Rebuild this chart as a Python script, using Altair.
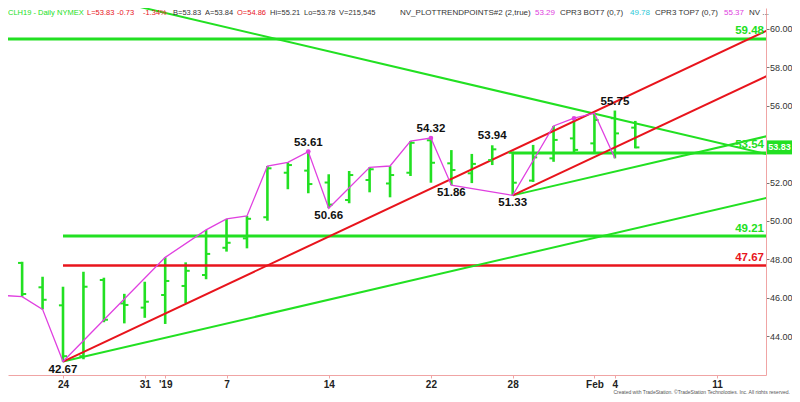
import json
import altair as alt
import pandas as pd

# ---------------- data ----------------
# trading-day index: 0 = Dec 24 2018, 5 = Jan 2 2019, 26 = Feb 1, 28 = Feb 5
bar_index = list(range(-3, 29))
bar_open = [47.50, 47.81, 46.54, 45.60, 42.95, 46.92, 45.70, 45.48, 46.14, 46.61, 47.18, 48.60,
            49.09, 50.19, 52.51, 52.62, 52.00, 51.09, 52.13, 51.95, 52.51, 54.20, 53.00, 52.48,
            53.17, 53.55, 52.10, 53.26, 54.30, 54.04, 55.35, 54.86]
bar_high = [48.69, 47.87, 47.09, 46.57, 47.35, 47.04, 46.20, 46.83, 48.10, 47.84, 49.53, 50.10,
            50.26, 52.86, 53.05, 53.61, 52.43, 52.60, 52.79, 52.86, 54.16, 54.32, 53.69, 53.49,
            53.94, 53.61, 53.96, 54.95, 55.35, 55.61, 55.75, 55.21]
bar_low = [46.61, 46.05, 45.39, 42.67, 42.79, 44.72, 44.66, 44.95, 44.63, 45.71, 46.96, 48.40,
           48.57, 50.01, 51.65, 51.44, 50.66, 50.92, 51.49, 51.23, 52.34, 51.99, 51.86, 51.97,
           52.91, 51.33, 52.03, 53.08, 53.54, 53.52, 53.26, 53.78]
bar_close = [48.54, 46.19, 45.89, 42.95, 46.57, 44.85, 45.62, 45.79, 46.87, 47.40, 48.28, 48.86,
             50.11, 52.74, 52.91, 51.92, 50.85, 52.39, 52.69, 52.39, 54.07, 53.03, 52.65, 52.97,
             53.73, 51.99, 53.31, 54.22, 53.70, 55.26, 54.56, 53.83]

tick_index = [0, 4, 5, 8, 13, 18, 22, 26, 27, 32]
tick_label = ["24", "31", "'19", "7", "14", "22", "28", "Feb", "4", "11"]
price_ticks = [44, 46, 48, 50, 52, 54, 56, 58, 60]

trend_pt_index = [-3, -2, -1, 0, 5, 7, 8, 9, 10, 11, 12, 13, 15, 16, 17, 18, 19, 22, 24, 25, 26, 27]
trend_pt_price = [46.12, 46.05, 45.39, 42.67, 48.10, 49.53, 50.10, 50.26, 52.86, 53.05, 53.61,
                  50.66, 52.79, 52.86, 54.16, 54.32, 51.86, 51.33, 54.95, 55.35, 55.61, 53.26]

pivot_dot_index = [12, 18, 25]
pivot_dot_price = [53.61, 54.32, 55.35]

swing_label_index = [0, 12, 13, 18, 19, 21, 22, 27]
swing_label_price = [42.67, 53.61, 50.66, 54.32, 51.86, 53.94, 51.33, 55.75]
swing_label_kind = ["low", "high", "low", "high", "low", "high", "low", "high"]

green_levels = [59.48, 53.54, 49.21]
green_level_from = [-3, 22, 0]
red_levels = [47.67]
red_level_from = [0]
level_to = 34.7

red_trend_i0 = [0, 22]
red_trend_p0 = [42.67, 51.33]
red_trend_i1 = [34.7, 34.7]
red_trend_p1 = [60.05, 57.68]

green_trend_i0 = [0, 22, 0]
green_trend_p0 = [42.67, 51.33, 62.09]
green_trend_i1 = [34.7, 34.7, 34.7]
green_trend_p1 = [51.27, 54.48, 53.41]

last_price = 53.83

header_left = ["CLH19 - Daily", "NYMEX", "L=53.83", "-0.73", "-1.34%", "B=53.83", "A=53.84",
               "O=54.86", "Hi=55.21", "Lo=53.78", "V=215,545"]
header_right = ["NV_PLOTTRENDPOINTS#2 (2,true)", "53.29", "CPR3 BOT7 (0,7)", "49.78",
                "CPR3 TOP7 (0,7)", "55.37", "NV ..."]

# ---------------- styling ----------------
FONT = "Liberation Sans"
GREEN = "#22e022"
RED = "#e8141c"
MAGENTA = "#e040e0"
CYAN = "#2cc8d8"
DARK = "#333333"
PINK = "#f0a4a4"
W, H = 758, 367

xs = alt.Scale(domain=[-2.691, 34.393], nice=False, zero=False)
ys = alt.Scale(domain=[41.970, 61.094], nice=False, zero=False)

expr = " : ".join(f"datum.value == {i} ? {json.dumps(l)}" for i, l in zip(tick_index, tick_label)) + " : ''"
x_axis = alt.Axis(values=tick_index, labelExpr=expr, title=None, grid=False, orient="bottom",
                  domainColor=PINK, tickColor=PINK, tickSize=3, labelPadding=1,
                  labelFontSize=10, labelFontWeight="bold", labelColor="#222", labelFont=FONT,
                  labelOverlap=False, labelFlush=False, labelBound=False)
y_axis = alt.Axis(values=price_ticks, format=".2f", title=None, grid=False, orient="right",
                  domainColor=PINK, tickColor="#777", tickSize=3, labelPadding=0.5,
                  labelFontSize=9, labelColor=DARK, labelFont=FONT, labelOverlap=False,
                  labelFlush=False, labelBound=False)


def X(field):
    return alt.X(field, scale=xs, axis=x_axis)


def Y(field):
    return alt.Y(field, scale=ys, axis=y_axis)


bars = pd.DataFrame({"i": bar_index, "o": bar_open, "h": bar_high, "l": bar_low, "c": bar_close})
one = pd.DataFrame({"k": [0]})

hl = alt.Chart(bars).mark_rule(color=GREEN, strokeWidth=2.6, clip=True).encode(
    x=X("i:Q"), y=Y("l:Q"), y2="h:Q")
op = alt.Chart(bars).transform_calculate(ia="datum.i - 0.2").mark_rule(
    color=GREEN, strokeWidth=2, clip=True).encode(x=X("ia:Q"), x2="i:Q", y=Y("o:Q"))
cl = alt.Chart(bars).transform_calculate(ib="datum.i + 0.2").mark_rule(
    color=GREEN, strokeWidth=2, clip=True).encode(x=X("i:Q"), x2="ib:Q", y=Y("c:Q"))

gl = pd.DataFrame({"p": green_levels, "f": green_level_from})
gl["t"] = level_to
rl = pd.DataFrame({"p": red_levels, "f": red_level_from})
rl["t"] = level_to

g_lev = alt.Chart(gl).mark_rule(color=GREEN, strokeWidth=3, clip=True).encode(
    x=X("f:Q"), x2="t:Q", y=Y("p:Q"))
r_lev = alt.Chart(rl).mark_rule(color=RED, strokeWidth=2.5, clip=True).encode(
    x=X("f:Q"), x2="t:Q", y=Y("p:Q"))
g_lev_txt = alt.Chart(gl).transform_calculate(lbl="format(datum.p, '.2f')").mark_text(
    color=GREEN, align="right", baseline="middle", dy=-7.5, fontSize=11.5, fontWeight="bold",
    font=FONT).encode(x=alt.value(756), y=Y("p:Q"), text="lbl:N")
r_lev_txt = alt.Chart(rl).transform_calculate(lbl="format(datum.p, '.2f')").mark_text(
    color=RED, align="right", baseline="middle", dy=-7.5, fontSize=11.5, fontWeight="bold",
    font=FONT).encode(x=alt.value(756), y=Y("p:Q"), text="lbl:N")

rt = pd.DataFrame({"i0": red_trend_i0, "p0": red_trend_p0, "i1": red_trend_i1, "p1": red_trend_p1})
gt = pd.DataFrame({"i0": green_trend_i0, "p0": green_trend_p0, "i1": green_trend_i1, "p1": green_trend_p1})
r_tr = alt.Chart(rt).mark_rule(color=RED, strokeWidth=2, clip=True).encode(
    x=X("i0:Q"), x2="i1:Q", y=Y("p0:Q"), y2="p1:Q")
g_tr = alt.Chart(gt).mark_rule(color=GREEN, strokeWidth=2, clip=True).encode(
    x=X("i0:Q"), x2="i1:Q", y=Y("p0:Q"), y2="p1:Q")

tp = pd.DataFrame({"i": trend_pt_index, "p": trend_pt_price})
mag = alt.Chart(tp).mark_line(color=MAGENTA, strokeWidth=1.3, clip=True).encode(
    x=X("i:Q"), y=Y("p:Q"))
dots = alt.Chart(pd.DataFrame({"i": pivot_dot_index, "p": pivot_dot_price})).mark_circle(
    color=MAGENTA, size=22, opacity=1).encode(x=X("i:Q"), y=Y("p:Q"))

sl = pd.DataFrame({"i": swing_label_index, "p": swing_label_price, "kind": swing_label_kind})
sl_hi = alt.Chart(sl).transform_filter("datum.kind == 'high'").transform_calculate(
    lbl="format(datum.p, '.2f')").mark_text(
    color="#111", fontSize=11.5, fontWeight="bold", font=FONT, baseline="middle", dy=-9).encode(
    x=X("i:Q"), y=Y("p:Q"), text="lbl:N")
sl_lo = alt.Chart(sl).transform_filter("datum.kind == 'low'").transform_calculate(
    lbl="format(datum.p, '.2f')").mark_text(
    color="#111", fontSize=11.5, fontWeight="bold", font=FONT, baseline="middle", dy=8).encode(
    x=X("i:Q"), y=Y("p:Q"), text="lbl:N")

lp = pd.DataFrame({"p": [last_price]})
lp_box = alt.Chart(lp).mark_rule(color=GREEN, strokeWidth=14).encode(
    x=alt.value(759), x2=alt.value(784), y=Y("p:Q"))
lp_txt = alt.Chart(lp).transform_calculate(lbl="format(datum.p, '.2f')").mark_text(
    color="white", fontSize=9, fontWeight="bold", font=FONT, baseline="middle").encode(
    x=alt.value(771.5), y=Y("p:Q"), text="lbl:N")

# header line: segment x positions (chart pixels) and colours
left_x = [0, 49, 79, 109, 135, 165, 197, 229, 262, 296, 331]
left_c = [GREEN, GREEN, RED, RED, RED, DARK, DARK, RED, DARK, DARK, DARK]
right_x = [392, 527, 552, 622, 647, 716, 741]
right_c = [DARK, MAGENTA, DARK, CYAN, DARK, MAGENTA, DARK]
head_layers = []
for t, px, c in zip(header_left, left_x, left_c):
    head_layers.append(alt.Chart(one).mark_text(
        text=t, color=c, align="left", baseline="middle", fontSize=7.5, font=FONT).encode(
        x=alt.value(px), y=alt.value(4.5)))
for t, px, c in zip(header_right, right_x, right_c):
    head_layers.append(alt.Chart(one).mark_text(
        text=t, color=c, align="left", baseline="middle", fontSize=8, font=FONT).encode(
        x=alt.value(px), y=alt.value(4.5)))

footer = alt.Chart(one).mark_text(
    text="Created with TradeStation. \u00a9TradeStation Technologies, Inc. All rights reserved.",
    color="#555", fontSize=5, align="right", baseline="alphabetic", font=FONT).encode(
    x=alt.value(782), y=alt.value(385.5))

chart = alt.layer(
    hl, g_lev, r_lev, g_tr, r_tr, op, cl, mag, dots,
    g_lev_txt, r_lev_txt, sl_hi, sl_lo, lp_box, lp_txt,
    footer, *head_layers
).properties(
    width=W, height=H, autosize="none",
    padding={"left": 0, "top": 0, "right": 26, "bottom": 19},
    background="white",
).configure_view(stroke=None)

chart.save("out.html", embed_options={"renderer": "svg", "actions": False})
